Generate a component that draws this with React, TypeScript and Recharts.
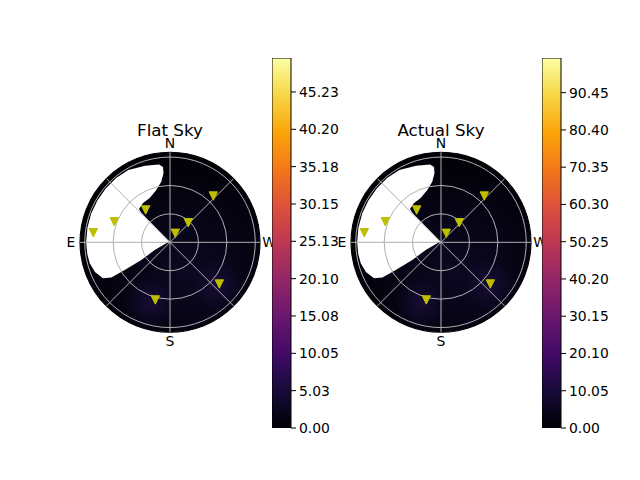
import React from "react";
import {
  ScatterChart,
  Scatter,
  XAxis,
  YAxis,
  ReferenceArea,
  ReferenceLine,
  ReferenceDot,
  BarChart,
  Bar,
} from "recharts";

// satellite positions: azimuth (deg from N toward E) and zenith angle (deg)
const markerAz = [82.9, 69.7, 37, 317, 329.5, 316.9, 229.8, 165.7];
const markerZen = [81.6, 62.7, 42.7, 28.3, 11, 66.9, 68.2, 62.8];

// outline of the masked (no data) part of the sky, [az, zen]
const maskOutline = [
  [45, 1], [44, 43.5], [43, 48], [34.5, 50.3], [24.6, 51.4], [14.7, 57],
  [8.2, 64.6], [5.4, 73.2], [5.3, 79.8], [8, 83], [18, 85], [30, 88],
  [40, 88.5], [50, 88.5], [60, 88.5], [70, 88.5], [80, 88.5], [90, 88.5],
  [98, 88.2], [104.7, 87.6], [111.6, 85.2], [118.3, 80.3], [121, 72.2],
  [121.4, 56], [121.7, 35.6], [116.7, 18.1], [100, 3],
];

// faint hot spots in the sky map, [az, zen]
const glowSpots = [
  [161.8, 67.5],
  [228.5, 68],
];

const zenithTicks = [30, 60, 90];
const spokeAngles = [0, 45, 90, 135, 180, 225, 270, 315];
const compass = [
  { az: 0, label: "N" },
  { az: 90, label: "E" },
  { az: 180, label: "S" },
  { az: 270, label: "W" },
];

const flatMax = 49.8;
const flatTicks = [0, 5.03, 10.05, 15.08, 20.1, 25.13, 30.15, 35.18, 40.2, 45.23];
const actualMax = 99.8;
const actualTicks = [0, 10.05, 20.1, 30.15, 40.2, 50.25, 60.3, 70.35, 80.4, 90.45];

const inferno = [
  "#000004", "#160b39", "#420a68", "#6a176e", "#932667", "#bc3754",
  "#dd513a", "#f37819", "#fca50a", "#f6d746", "#fcffa4",
];

const R_MAX = 95;
const FONT = "DejaVu Sans, sans-serif";

const toXY = (az: number, zen: number) => {
  const a = (az * Math.PI) / 180;
  return { x: -zen * Math.sin(a), y: zen * Math.cos(a) };
};

const markers = markerAz.map((az, i) => toXY(az, markerZen[i]));

function SkyBackground(props: any) {
  const { x, y, width, height, id } = props;
  const cx = x + width / 2;
  const cy = y + height / 2;
  const k = width / (2 * R_MAX);
  const px = (az: number, zen: number) => {
    const p = toXY(az, zen);
    return [cx + p.x * k, cy - p.y * k];
  };
  const pts = maskOutline.map(([a, z]) => px(a, z).join(",")).join(" ");
  return (
    <g>
      <defs>
        <radialGradient id={`glow-${id}`}>
          <stop offset="0%" stopColor="#2e1760" stopOpacity={0.4} />
          <stop offset="100%" stopColor="#2e1760" stopOpacity={0} />
        </radialGradient>
        <radialGradient id={`wash-${id}`} cx="60%" cy="65%" r="60%">
          <stop offset="0%" stopColor="#0b0822" />
          <stop offset="100%" stopColor="#020108" />
        </radialGradient>
      </defs>
      <circle cx={cx} cy={cy} r={R_MAX * k} fill={`url(#wash-${id})`} />
      {glowSpots.map(([a, z], i) => {
        const [gx, gy] = px(a, z);
        return <circle key={i} cx={gx} cy={gy} r={28 * k} fill={`url(#glow-${id})`} />;
      })}
      <polygon points={pts} fill="#ffffff" />
    </g>
  );
}

function SkyGrid(props: any) {
  const { x, y, width, height } = props;
  const cx = x + width / 2;
  const cy = y + height / 2;
  const k = width / (2 * R_MAX);
  return (
    <g>
      {zenithTicks.map((z) => (
        <circle key={z} cx={cx} cy={cy} r={z * k} fill="none" stroke="#b0b0b0" strokeWidth={1} />
      ))}
      <circle cx={cx} cy={cy} r={R_MAX * k} fill="none" stroke="#000" strokeWidth={1.1} />
    </g>
  );
}

const triangle = (props: any) => {
  const { cx, cy } = props;
  const h = 4.2;
  return (
    <polygon
      points={`${cx - h},${cy - h} ${cx + h},${cy - h} ${cx},${cy + h}`}
      fill="#bfbf00"
      stroke="#bfbf00"
      strokeWidth={1}
    />
  );
};

function SkyPlot({ id, title, left }: { id: string; title: string; left: number }) {
  return (
    <div style={{ position: "absolute", left, top: 92, width: 260, height: 300 }}>
      <div
        style={{
          position: "absolute",
          left: 0,
          width: 260,
          top: 29.5,
          textAlign: "center",
          fontFamily: FONT,
          fontSize: 16.7,
          lineHeight: 1,
          color: "#000",
        }}
      >
        {title}
      </div>
      <ScatterChart width={260} height={300} margin={{ top: 60.3, right: 40, bottom: 59.7, left: 40 }}>
        <XAxis dataKey="x" type="number" domain={[-R_MAX, R_MAX]} hide allowDataOverflow />
        <YAxis dataKey="y" type="number" domain={[-R_MAX, R_MAX]} hide allowDataOverflow />
        <ReferenceArea
          x1={-R_MAX}
          x2={R_MAX}
          y1={-R_MAX}
          y2={R_MAX}
          shape={(p: any) => <SkyBackground {...p} id={id} />}
        />
        <ReferenceArea x1={-R_MAX} x2={R_MAX} y1={-R_MAX} y2={R_MAX} shape={(p: any) => <SkyGrid {...p} />} />
        {spokeAngles.map((a) => {
          const end = toXY(a, R_MAX);
          return (
            <ReferenceLine
              key={a}
              segment={[{ x: 0, y: 0 }, end]}
              stroke="#b0b0b0"
              strokeWidth={1}
            />
          );
        })}
        {compass.map((c) => {
          const p = toXY(c.az, 104.5);
          return (
            <ReferenceDot
              key={c.label}
              x={p.x}
              y={p.y}
              r={1}
              fill="none"
              stroke="none"
              ifOverflow="visible"
              label={{ value: c.label, position: "center", fill: "#000", fontSize: 13.9, fontFamily: FONT }}
            />
          );
        })}
        <Scatter data={markers} shape={triangle} isAnimationActive={false} />
      </ScatterChart>
    </div>
  );
}

function ColorBar({ id, left, max, ticks }: { id: string; left: number; max: number; ticks: number[] }) {
  const data = [{ name: "c", v: max }];
  return (
    <div style={{ position: "absolute", left, top: 48, width: 74, height: 390 }}>
      <BarChart
        width={74}
        height={390}
        data={data}
        barCategoryGap={0}
        margin={{ top: 10, right: 0, bottom: 10, left: 0 }}
      >
        <defs>
          <linearGradient id={`cmap-${id}`} x1="0" y1="1" x2="0" y2="0">
            {inferno.map((c, i) => (
              <stop key={i} offset={`${(i / (inferno.length - 1)) * 100}%`} stopColor={c} />
            ))}
          </linearGradient>
        </defs>
        <XAxis dataKey="name" hide />
        <YAxis
          orientation="right"
          type="number"
          domain={[0, max]}
          ticks={ticks}
          interval={0}
          width={55}
          axisLine={false}
          tickSize={5}
          tickMargin={3}
          stroke="#000"
          tickLine={{ stroke: "#000" }}
          tick={{ fill: "#000", fontSize: 13.9, fontFamily: FONT }}
          tickFormatter={(v: number) => v.toFixed(2)}
          allowDataOverflow
        />
        <Bar dataKey="v" fill={`url(#cmap-${id})`} stroke="#000" strokeWidth={1} isAnimationActive={false} />
      </BarChart>
    </div>
  );
}

export default function App() {
  return (
    <div
      style={{
        position: "absolute",
        left: 0,
        top: 0,
        width: 640,
        height: 480,
        background: "#fff",
        fontFamily: FONT,
        overflow: "hidden",
      }}
    >
      <SkyPlot id="flat" title="Flat Sky" left={40} />
      <ColorBar id="flat" left={272} max={flatMax} ticks={flatTicks} />
      <SkyPlot id="actual" title="Actual Sky" left={311} />
      <ColorBar id="actual" left={542} max={actualMax} ticks={actualTicks} />
    </div>
  );
}
